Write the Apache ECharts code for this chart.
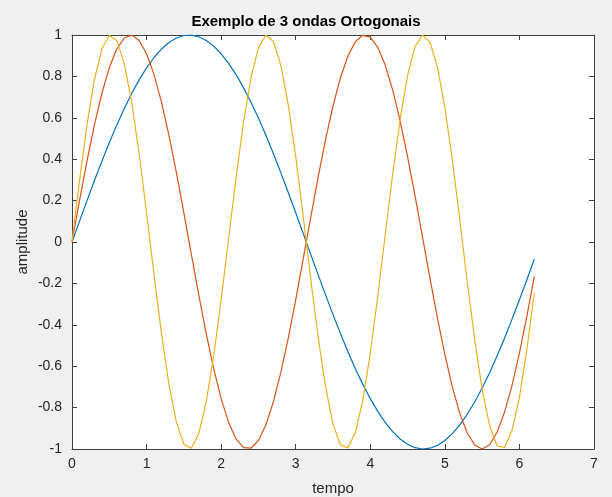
<!DOCTYPE html>
<html>
<head>
<meta charset="utf-8">
<script src="https://cdn.jsdelivr.net/npm/echarts@6/dist/echarts.min.js"></script>
<style>
html,body{margin:0;padding:0;background:#f0f0f0;}
#chart{width:612px;height:497px;}
</style>
</head>
<body>
<div id="chart"></div>
<script>
// eixo do tempo (0:0.1:6.2)
var tempo=[0,0.1,0.2,0.3,0.4,0.5,0.6,0.7,0.8,0.9,1.0,1.1,1.2,1.3,1.4,1.5,1.6,1.7,1.8,1.9,2.0,
    2.1,2.2,2.3,2.4,2.5,2.6,2.7,2.8,2.9,3.0,3.1,3.2,3.3,3.4,3.5,3.6,3.7,3.8,3.9,4.0,
    4.1,4.2,4.3,4.4,4.5,4.6,4.7,4.8,4.9,5.0,5.1,5.2,5.3,5.4,5.5,5.6,5.7,5.8,5.9,6.0,6.1,6.2];

// onda 1 (azul)
var onda1=[0,0.0998,0.1987,0.2955,0.3894,0.4794,0.5646,0.6442,0.7174,0.7833,0.8415,
    0.8912,0.9320,0.9636,0.9854,0.9975,0.9996,0.9917,0.9738,0.9463,0.9093,
    0.8632,0.8085,0.7457,0.6755,0.5985,0.5155,0.4274,0.3350,0.2392,0.1411,
    0.0416,-0.0584,-0.1577,-0.2555,-0.3508,-0.4425,-0.5298,-0.6119,-0.6878,-0.7568,
    -0.8183,-0.8716,-0.9162,-0.9516,-0.9775,-0.9937,-0.9999,-0.9962,-0.9825,-0.9589,
    -0.9258,-0.8835,-0.8323,-0.7728,-0.7055,-0.6313,-0.5507,-0.4646,-0.3739,-0.2794,
    -0.1822,-0.0831];

// onda 2 (vermelha)
var onda2=[0,0.1987,0.3894,0.5646,0.7174,0.8415,0.9320,0.9854,0.9996,0.9738,0.9093,
    0.8085,0.6755,0.5155,0.3350,0.1411,-0.0584,-0.2555,-0.4425,-0.6119,-0.7568,
    -0.8716,-0.9516,-0.9937,-0.9962,-0.9589,-0.8835,-0.7728,-0.6313,-0.4646,-0.2794,
    -0.0831,0.1165,0.3115,0.4941,0.6570,0.7937,0.8987,0.9679,0.9985,0.9894,
    0.9407,0.8546,0.7344,0.5849,0.4121,0.2229,0.0248,-0.1743,-0.3665,-0.5440,
    -0.6999,-0.8278,-0.9228,-0.9809,-1.0000,-0.9792,-0.9193,-0.8228,-0.6935,-0.5366,
    -0.3582,-0.1656];

// onda 3 (amarela)
var onda3=[0,0.2955,0.5646,0.7833,0.9320,0.9975,0.9738,0.8632,0.6755,0.4274,0.1411,
    -0.1577,-0.4425,-0.6878,-0.8716,-0.9775,-0.9962,-0.9258,-0.7728,-0.5507,-0.2794,
    0.0168,0.3115,0.5784,0.7937,0.9380,0.9985,0.9699,0.8546,0.6628,0.4121,
    0.1245,-0.1743,-0.4575,-0.6999,-0.8797,-0.9809,-0.9946,-0.9193,-0.7648,-0.5366,
    -0.2632,0.0336,0.3275,0.5920,0.8038,0.9437,0.9993,0.9657,0.8457,0.6503,
    0.3967,0.1077,-0.1909,-0.4724,-0.7118,-0.8875,-0.9847,-0.9929,-0.9122,-0.7510,
    -0.5183,-0.2453];

var cores=['#0072BD','#D95319','#EDB120'];

function pares(y){
    var arr=[];
    for(var i=0;i<tempo.length;i++){
        arr.push([tempo[i],y[i]]);
    }
    return arr;
}

var corEixo='#404040';
var fonte='"Liberation Sans", Arial, sans-serif';

function eixoX(pos,labels){
    return {
        type:'value',position:pos,min:0,max:7,interval:1,
        axisLine:{show:true,onZero:false,lineStyle:{color:corEixo,width:1}},
        axisTick:{show:true,inside:true,length:5,lineStyle:{color:corEixo}},
        axisLabel:{show:labels,color:'#262626',fontSize:14,fontFamily:fonte,margin:8},
        splitLine:{show:false}
    };
}
function eixoY(pos,labels){
    return {
        type:'value',position:pos,min:-1,max:1,interval:0.2,
        axisLine:{show:true,onZero:false,lineStyle:{color:corEixo,width:1}},
        axisTick:{show:true,inside:true,length:5,lineStyle:{color:corEixo}},
        axisLabel:{show:labels,color:'#262626',fontSize:14,fontFamily:fonte,margin:10},
        splitLine:{show:false}
    };
}

var myChart=echarts.init(document.getElementById('chart'));

var x0=eixoX('bottom',true);
x0.name='tempo';
x0.nameLocation='middle';
x0.nameGap=32;
x0.nameMoveOverlap=false;
x0.nameTextStyle={color:'#262626',fontSize:15,fontFamily:fonte};

var y0=eixoY('left',true);
y0.name='amplitude';
y0.nameLocation='middle';
y0.nameGap=42;
y0.nameMoveOverlap=false;
y0.nameTextStyle={color:'#262626',fontSize:15,fontFamily:fonte};

var option={
    backgroundColor:'#f0f0f0',
    animation:false,
    title:{
        text:'Exemplo de 3 ondas Ortogonais',
        left:'center',top:9,
        textStyle:{color:'#000',fontSize:15,fontWeight:'bold',fontFamily:fonte}
    },
    grid:{
        left:72,right:18,top:35,bottom:48,
        outerBoundsMode:'none',
        show:true,backgroundColor:'#fff',borderWidth:0
    },
    xAxis:[x0,eixoX('top',false)],
    yAxis:[y0,eixoY('right',false)],
    series:[onda1,onda2,onda3].map(function(d,i){
        return {
            type:'line',
            data:pares(d),
            showSymbol:false,
            symbol:'none',
            lineStyle:{color:cores[i],width:1.2},
            z:10
        };
    })
};

myChart.setOption(option);
</script>
</body>
</html>
